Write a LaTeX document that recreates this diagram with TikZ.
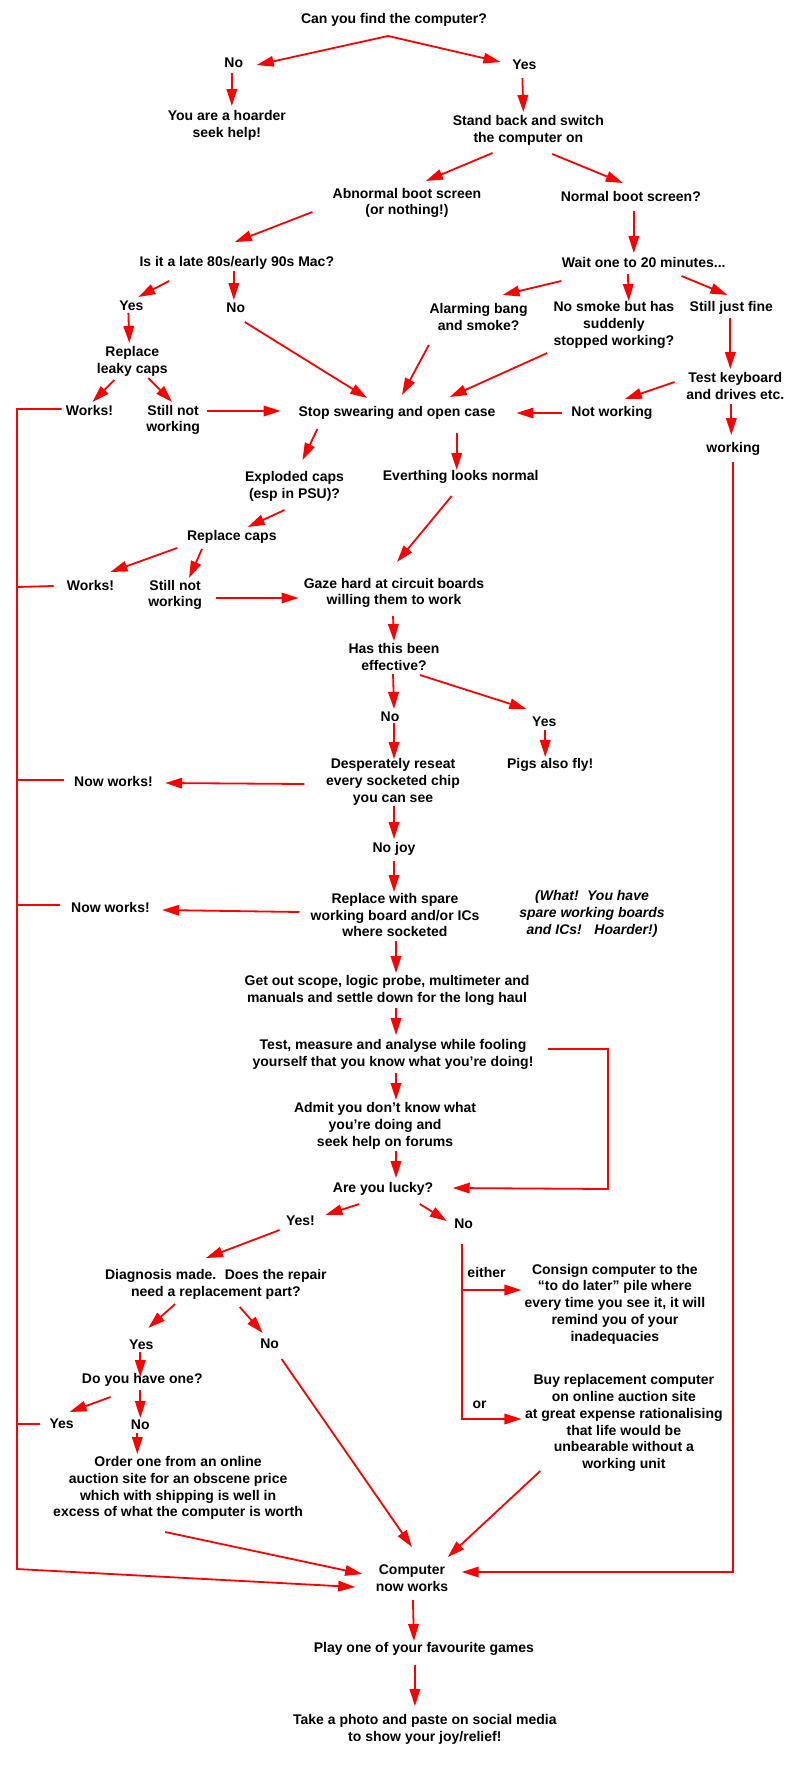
\documentclass[tikz,border=0pt]{standalone}
\usepackage{fontspec}
\setmainfont{Liberation Sans}
\usetikzlibrary{arrows.meta}
\tikzset{
  t/.style={font=\fontsize{14}{16.8}\selectfont\bfseries, align=center, inner sep=0pt, text=black},
  ti/.style={font=\fontsize{14}{16.8}\selectfont\bfseries\itshape, align=center, inner sep=0pt, text=black},
  link/.style={draw=red, line width=1.8pt, line join=miter},
  arr/.style={link, -{Triangle[length=17pt,width=10.5pt,fill=red]}}
}
\begin{document}
\begin{tikzpicture}[x=0.995pt,y=-1pt]
\useasboundingbox (0,0) rectangle (804.02,1772);
\fill[white] (0,0) rectangle (804.02,1772);
% nodes
\node[t] (can) at (396,20) {Can you find the computer?};
\node[t] (no1) at (235,63) {No};
\node[t] (yes1) at (527,65) {Yes};
\node[t] (hoard) at (228,125) {You are a hoarder\\seek help!};
\node[t] (stand) at (531,130) {Stand back and switch\\the computer on};
\node[t] (abn) at (409,203) {Abnormal boot screen\\(or nothing!)};
\node[t] (norm) at (634,196) {Normal boot screen?};
\node[t] (mac) at (238,263) {Is it a late 80s/early 90s Mac?};
\node[t] (wait) at (647,262) {Wait one to 20 minutes...};
\node[t] (yes2) at (132,306) {Yes};
\node[t] (no2) at (237,308) {No};
\node[t] (alarm) at (481,317) {Alarming bang\\and smoke?};
\node[t] (nosmoke) at (617,325) {No smoke but has\\suddenly\\stopped working?};
\node[t] (fine) at (735,308) {Still just fine};
\node[t] (leaky) at (133,361) {Replace\\leaky caps};
\node[t] (test) at (739,386) {Test keyboard\\and drives etc.};
\node[t] (works1) at (90,410) {Works!};
\node[t] (still1) at (174,420) {Still not\\working};
\node[t] (stop) at (399,413) {Stop swearing and open case};
\node[t] (notw) at (615,413) {Not working};
\node[t] (working) at (737,449) {working};
\node[t] (expl) at (296,486) {Exploded caps\\(esp in PSU)?};
\node[t] (every) at (463,477) {Everthing looks normal};
\node[t] (repl) at (233,537) {Replace caps};
\node[t] (works2) at (91,585) {Works!};
\node[t] (still2) at (176,595) {Still not\\working};
\node[t] (gaze) at (396,593) {Gaze hard at circuit boards\\willing them to work};
\node[t] (hasthis) at (396,657) {Has this been\\effective?};
\node[t] (no3) at (392,717) {No};
\node[t] (yes3) at (547,722) {Yes};
\node[t] (desp) at (395,782) {Desperately reseat\\every socketed chip\\you can see};
\node[t] (pigs) at (553,765) {Pigs also fly!};
\node[t] (now1) at (114,781) {Now works!};
\node[t] (nojoy) at (396,849) {No joy};
\node[t] (now2) at (111,907) {Now works!};
\node[t] (replw) at (397,915) {Replace with spare\\working board and/or ICs\\where socketed};
\node[ti] (what) at (595,914) {(What!\hspace{0.6em}You have\\spare working boards\\and ICs!\hspace{0.9em}Hoarder!)};
\node[t] (getout) at (389,990) {Get out scope, logic probe, multimeter and\\manuals and settle down for the long haul};
\node[t] (testm) at (395,1054) {Test, measure and analyse while fooling\\yourself that you know what you’re doing!};
\node[t] (admit) at (387,1126) {Admit you don’t know what\\you’re doing and\\seek help on forums};
\node[t] (lucky) at (385,1189) {Are you lucky?};
\node[t] (yes4) at (302,1221) {Yes!};
\node[t] (no4) at (466,1224) {No};
\node[t] (diag) at (217,1284) {Diagnosis made.\hspace{0.6em}Does the repair\\need a replacement part?};
\node[t] (either) at (489,1272) {either};
\node[t] (consign) at (618,1304) {Consign computer to the\\“to do later” pile where\\every time you see it, it will\\remind you of your\\inadequacies};
\node[t] (yes5) at (142,1345) {Yes};
\node[t] (no5) at (271,1344) {No};
\node[t] (doyou) at (143,1380) {Do you have one?};
\node[t] (yes6) at (62,1424) {Yes};
\node[t] (no6) at (141,1425) {No};
\node[t] (order) at (179,1488) {Order one from an online\\auction site for an obscene price\\which with shipping is well in\\excess of what the computer is worth};
\node[t] (buy) at (627,1423) {Buy replacement computer\\on online auction site\\at great expense rationalising\\that life would be\\unbearable without a\\working unit};
\node[t] (ornode) at (482,1405) {or};
\node[t] (comp) at (414,1578) {Computer\\now works};
\node[t] (play) at (426,1649) {Play one of your favourite games};
\node[t] (take) at (427,1729) {Take a photo and paste on social media\\to show your joy/relief!};
% bends
\coordinate (lt) at (17,409);
\coordinate (lb) at (17,1569);
\coordinate (lw2) at (17,587);
\coordinate (ln1) at (17,780);
\coordinate (ln2) at (17,905);
\coordinate (ly6) at (17,1424);
\coordinate (rb) at (737,1572);
\coordinate (ea) at (611,1049);
\coordinate (eb) at (611,1189);
\coordinate (sb) at (464,1419);
\coordinate (sm) at (464,1290);
% connectors
\draw[arr] ([shift={(-6,16)}]can.center) -- ([shift={(23,2)}]no1.center);
\draw[arr] ([shift={(-6,16)}]can.center) -- ([shift={(-24,-3)}]yes1.center);
\draw[arr] ([shift={(-2,10)}]no1.center) -- ([shift={(5,-19)}]hoard.center);
\draw[arr] ([shift={(-2,13)}]yes1.center) -- ([shift={(-5,-18)}]stand.center);
\draw[arr] ([shift={(-36,23)}]stand.center) -- ([shift={(19,-22)}]abn.center);
\draw[arr] ([shift={(24,24)}]stand.center) -- ([shift={(-8,-13)}]norm.center);
\draw[arr] ([shift={(-95,9)}]abn.center) -- ([shift={(-2,-21)}]mac.center);
\draw[arr] ([shift={(3,15)}]norm.center) -- ([shift={(-10,-9)}]wait.center);
\draw[arr] ([shift={(-68,18)}]mac.center) -- ([shift={(7,-9)}]yes2.center);
\draw[arr] ([shift={(-3,8)}]mac.center) -- ([shift={(-2,-8)}]no2.center);
\draw[arr] ([shift={(-83,19)}]wait.center) -- ([shift={(24,-22)}]alarm.center);
\draw[arr] ([shift={(-16,12)}]wait.center) -- ([shift={(15,-24)}]nosmoke.center);
\draw[arr] ([shift={(38,14)}]wait.center) -- ([shift={(-4,-13)}]fine.center);
\draw[arr] ([shift={(-3,7)}]yes2.center) -- ([shift={(-3,-18)}]leaky.center);
\draw[arr] ([shift={(9,14)}]no2.center) -- ([shift={(-30,-15)}]stop.center);
\draw[arr] ([shift={(-50,28)}]alarm.center) -- ([shift={(5,-18)}]stop.center);
\draw[arr] ([shift={(-67,28)}]nosmoke.center) -- ([shift={(53,-16)}]stop.center);
\draw[arr] ([shift={(-1,10)}]fine.center) -- ([shift={(-5,-17)}]test.center);
\draw[arr] ([shift={(-18,19)}]leaky.center) -- ([shift={(3,-8)}]works1.center);
\draw[arr] ([shift={(16,17)}]leaky.center) -- ([shift={(-1,-18)}]still1.center);
\draw[arr] ([shift={(34,-9)}]still1.center) -- ([shift={(-117,-2)}]stop.center);
\draw[arr] ([shift={(-50,0)}]notw.center) -- ([shift={(120,0)}]stop.center);
\draw[arr] ([shift={(-61,-4)}]test.center) -- ([shift={(13,-14)}]notw.center);
\draw[arr] ([shift={(-4,18)}]test.center) -- ([shift={(-2,-14)}]working.center);
\draw[arr] ([shift={(-80,16)}]stop.center) -- ([shift={(8,-26)}]expl.center);
\draw[arr] ([shift={(60,20)}]stop.center) -- ([shift={(-4,-7)}]every.center);
\draw[arr] ([shift={(-10,24)}]expl.center) -- ([shift={(16,-10)}]repl.center);
\draw[arr] ([shift={(-9,19)}]every.center) -- ([shift={(3,-31)}]gaze.center);
\draw[arr] ([shift={(-55,11)}]repl.center) -- ([shift={(20,-13)}]works2.center);
\draw[arr] ([shift={(-30,12)}]repl.center) -- ([shift={(14,-17)}]still2.center);
\draw[arr] ([shift={(41,3)}]still2.center) -- ([shift={(-96,5)}]gaze.center);
\draw[arr] ([shift={(-1,23)}]gaze.center) -- ([shift={(0,-16)}]hasthis.center);
\draw[arr] ([shift={(-1,17)}]hasthis.center) -- ([shift={(4,-8)}]no3.center);
\draw[arr] ([shift={(26,18)}]hasthis.center) -- ([shift={(-18,-13)}]yes3.center);
\draw[arr] ([shift={(4,6)}]no3.center) -- ([shift={(1,-23)}]desp.center);
\draw[arr] ([shift={(1,8)}]yes3.center) -- ([shift={(-5,-8)}]pigs.center);
\draw[arr] ([shift={(-89,2)}]desp.center) -- ([shift={(52,2)}]now1.center);
\draw[arr] ([shift={(1,24)}]desp.center) -- ([shift={(0,-10)}]nojoy.center);
\draw[arr] ([shift={(0,12)}]nojoy.center) -- ([shift={(-1,-23)}]replw.center);
\draw[arr] ([shift={(-96,-3)}]replw.center) -- ([shift={(52,3)}]now2.center);
\draw[arr] ([shift={(1,26)}]replw.center) -- ([shift={(9,-17)}]getout.center);
\draw[arr] ([shift={(9,18)}]getout.center) -- ([shift={(3,-19)}]testm.center);
\draw[arr] ([shift={(3,19)}]testm.center) -- ([shift={(11,-26)}]admit.center);
\draw[arr] ([shift={(11,25)}]admit.center) -- ([shift={(13,-11)}]lucky.center);
\draw[arr] ([shift={(156,-5)}]testm.center) -- (ea) -- (eb) -- ([shift={(70,-1)}]lucky.center);
\draw[arr] ([shift={(-24,15)}]lucky.center) -- ([shift={(25,-6)}]yes4.center);
\draw[arr] ([shift={(37,15)}]lucky.center) -- ([shift={(-17,-3)}]no4.center);
\draw[arr] ([shift={(-21,9)}]yes4.center) -- ([shift={(-10,-26)}]diag.center);
\draw[arr] ([shift={(-41,20)}]diag.center) -- ([shift={(7,-17)}]yes5.center);
\draw[arr] ([shift={(24,23)}]diag.center) -- ([shift={(-7,-11)}]no5.center);
\draw[arr] ([shift={(-2,20)}]no4.center) -- (sb) -- ([shift={(-103,-4)}]buy.center);
\draw[arr] (sm) -- ([shift={(-94,-14)}]consign.center);
\draw[arr] ([shift={(-1,7)}]yes5.center) -- ([shift={(-2,-3)}]doyou.center);
\draw[arr] ([shift={(-2,10)}]doyou.center) -- ([shift={(0,-7)}]no6.center);
\draw[arr] ([shift={(-32,17)}]doyou.center) -- ([shift={(8,-12)}]yes6.center);
\draw[arr] ([shift={(-3,8)}]no6.center) -- ([shift={(-41,-34)}]order.center);
\draw[arr] ([shift={(12,15)}]no5.center) -- ([shift={(0,-31)}]comp.center);
\draw[arr] ([shift={(-84,48)}]buy.center) -- ([shift={(36,-21)}]comp.center);
\draw[arr] ([shift={(-13,44)}]order.center) -- ([shift={(-50,-4)}]comp.center);
\draw[arr] ([shift={(-28,-1)}]works1.center) -- (lt) -- (lb) -- ([shift={(-57,9)}]comp.center);
\draw[link] ([shift={(-37,1)}]works2.center) -- (lw2);
\draw[link] ([shift={(-50,-1)}]now1.center) -- (ln1);
\draw[link] ([shift={(-51,-2)}]now2.center) -- (ln2);
\draw[link] ([shift={(-22,0)}]yes6.center) -- (ly6);
\draw[arr] ([shift={(0,13)}]working.center) -- (rb) -- ([shift={(50,-6)}]comp.center);
\draw[arr] ([shift={(1,22)}]comp.center) -- ([shift={(-10,-8)}]play.center);
\draw[arr] ([shift={(-9,16)}]play.center) -- ([shift={(-10,-23)}]take.center);
\end{tikzpicture}
\end{document}
